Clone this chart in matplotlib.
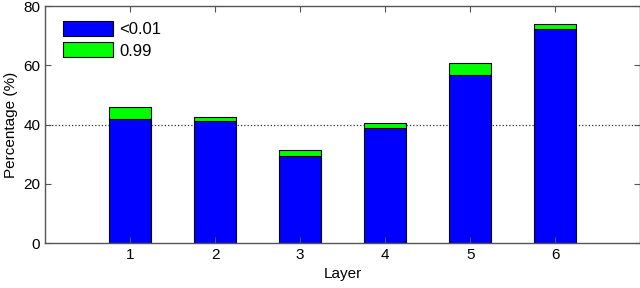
import matplotlib
matplotlib.use("Agg")
import matplotlib.pyplot as plt
import numpy as np

plt.rcParams['font.family'] = ['Liberation Sans', 'DejaVu Sans']

# data
layers = [1, 2, 3, 4, 5, 6]
low = [41.9, 41.1, 29.4, 38.7, 56.8, 72.4]      # <0.01
high = [3.9, 1.4, 1.9, 1.7, 4.1, 1.5]           # 0.99 (stacked on top)

fig = plt.figure(figsize=(6.4, 2.88), dpi=100)
ax = fig.add_axes([0.0703, 0.156, 0.93, 0.823])

ax.bar(layers, low, width=0.5, color='#0000ff', edgecolor='black', linewidth=0.8, label='<0.01')
ax.bar(layers, high, width=0.5, bottom=low, color='#00ff00', edgecolor='black', linewidth=0.8, label='0.99')

ax.axhline(40, color='#333333', linestyle=':', linewidth=0.9, zorder=0)

ax.set_xlim(0, 7)
ax.set_ylim(0, 80)
ax.set_xticks(layers)
ax.set_yticks([0, 20, 40, 60, 80])
ax.tick_params(direction='in', top=True, right=True, labelsize=11, length=4, color='#555555')
for s in ax.spines.values():
    s.set_color('#555555')
    s.set_linewidth(1.0)

ax.set_xlabel('Layer', fontsize=11, labelpad=4)
ax.set_ylabel('Percentage (%)', fontsize=11, labelpad=4)

ax.legend(loc='upper left', frameon=False, fontsize=12, handlelength=3.0, handleheight=1.0,
          borderaxespad=0.3, handletextpad=0.35, labelspacing=0.3, borderpad=0.3,
          bbox_to_anchor=(0.0136, 0.978))

fig.savefig('out.png', dpi=100)
